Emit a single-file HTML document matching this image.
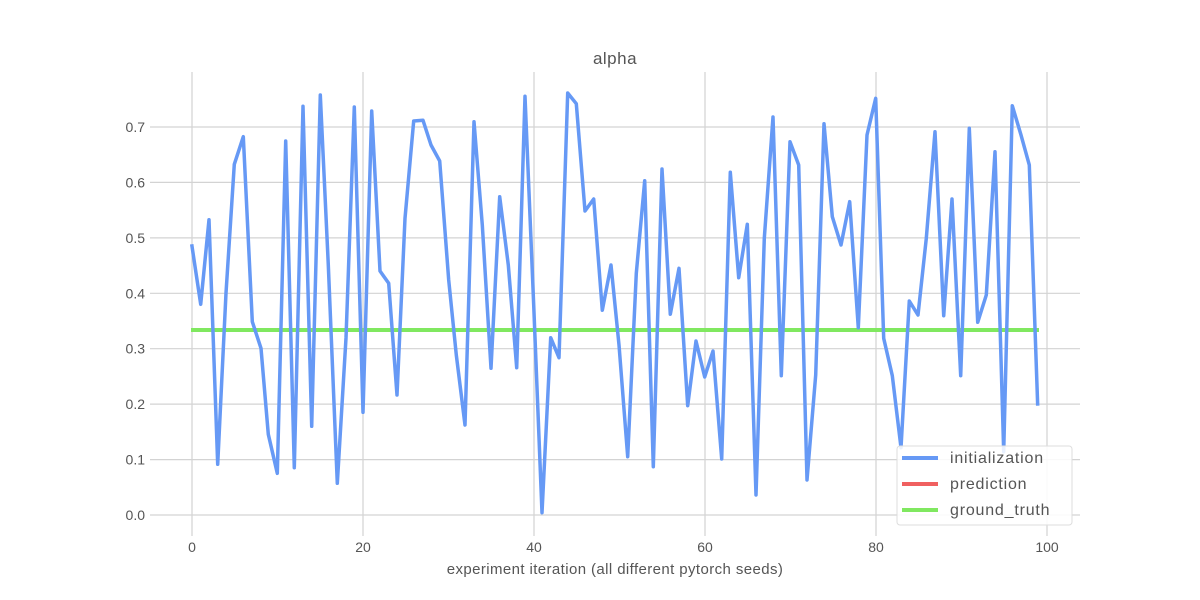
<!DOCTYPE html>
<html><head><style>body{margin:0;background:#fff}svg{display:block}</style></head><body>
<svg width="1200" height="600" viewBox="0 0 1200 600" xmlns="http://www.w3.org/2000/svg" font-family="Liberation Sans, sans-serif">
<rect width="1200" height="600" fill="#fff"/>
<g stroke="#d3d3d3" stroke-width="1.2">
<line x1="192" y1="72" x2="192" y2="536"/><line x1="363" y1="72" x2="363" y2="536"/><line x1="534" y1="72" x2="534" y2="536"/><line x1="705" y1="72" x2="705" y2="536"/><line x1="876" y1="72" x2="876" y2="536"/><line x1="1047" y1="72" x2="1047" y2="536"/>
<line x1="150" y1="515" x2="1080" y2="515"/><line x1="150" y1="459.6" x2="1080" y2="459.6"/><line x1="150" y1="404.1" x2="1080" y2="404.1"/><line x1="150" y1="348.7" x2="1080" y2="348.7"/><line x1="150" y1="293.3" x2="1080" y2="293.3"/><line x1="150" y1="237.9" x2="1080" y2="237.9"/><line x1="150" y1="182.4" x2="1080" y2="182.4"/><line x1="150" y1="127" x2="1080" y2="127"/>
</g>
<g fill="#555" font-size="14" text-anchor="end">
<text x="145" y="520">0.0</text><text x="145" y="464.6">0.1</text><text x="145" y="409.1">0.2</text><text x="145" y="353.7">0.3</text><text x="145" y="298.3">0.4</text><text x="145" y="242.9">0.5</text><text x="145" y="187.4">0.6</text><text x="145" y="132">0.7</text>
</g>
<g fill="#555" font-size="14" text-anchor="middle">
<text x="192" y="552">0</text><text x="363" y="552">20</text><text x="534" y="552">40</text><text x="705" y="552">60</text><text x="876" y="552">80</text><text x="1047" y="552">100</text>
<text x="615" y="574" font-size="15" letter-spacing="0.4">experiment iteration (all different pytorch seeds)</text>
<text x="615" y="64" font-size="17" letter-spacing="0.5">alpha</text>
</g>
<polyline fill="none" stroke="#f06060" stroke-width="3" points="191,330 1039,330"/>
<polyline fill="none" stroke="#80e860" stroke-width="4" points="191,330 1039,330"/>
<polyline fill="none" stroke="#6699f5" stroke-width="3.5" stroke-linejoin="round" points="191.7,244.3 200.7,304.3 209,219.7 217.7,464.3 226,293 234.3,164.3 243.3,136.7 252.3,321.7 261,348.3 268.3,434.3 277.3,473.3 285.7,141 294.3,467.7 303,106.3 311.7,426.3 320.3,95 328.3,265 337.3,483.3 346,338 354.3,107 363,412.3 371.7,111 380,271 388.7,283.3 397,395 405,218.3 413.7,121 423,120.3 431,145 439.7,161 448.7,280 456.3,355 465,425 474,121.7 482.3,225 491,368.3 499.7,196.7 508.3,265 516.7,367.7 525,96.3 533.7,305 542,512.7 550.7,337.7 559,357.7 567.7,93 576.3,103.7 585,211 593.7,199 602.3,310.3 611,265 619,345 627.7,456.7 636.3,273.3 644.7,180.7 653.3,466.7 662,169 670.3,314.3 679,268.3 687.7,405.7 696,341 704.7,377 713,351 721.7,459 730.3,172.3 738.7,277.7 747.3,224.3 756,495 764.3,238.3 773,117 781.3,375.7 790,141.7 798.7,165 807,480 815.7,375 824,123.7 832.3,216.7 841,245 849.7,201.7 858.3,327.7 867,135 875.7,98.3 883.7,338.3 892.3,375.7 901,447.7 909.3,301 918,315 926.3,238.3 935,131.7 943.7,315.7 952,199 960.7,375.7 969.3,128.3 977.7,322.3 986.3,295 995,151.7 1003.7,451.7 1012.3,105.7 1021,135 1029.3,165 1037.7,405.7"/>
<rect x="897" y="446" width="175" height="79" rx="3" fill="#fff" fill-opacity="0.85" stroke="#ddd"/>
<line x1="902" y1="458" x2="938" y2="458" stroke="#6699f5" stroke-width="4"/>
<line x1="902" y1="484" x2="938" y2="484" stroke="#f06060" stroke-width="4"/>
<line x1="902" y1="510" x2="938" y2="510" stroke="#80e860" stroke-width="4"/>
<g fill="#555" font-size="16" letter-spacing="0.8"><text x="950" y="463">initialization</text><text x="950" y="489">prediction</text><text x="950" y="515">ground_truth</text></g>
</svg>
</body></html>
